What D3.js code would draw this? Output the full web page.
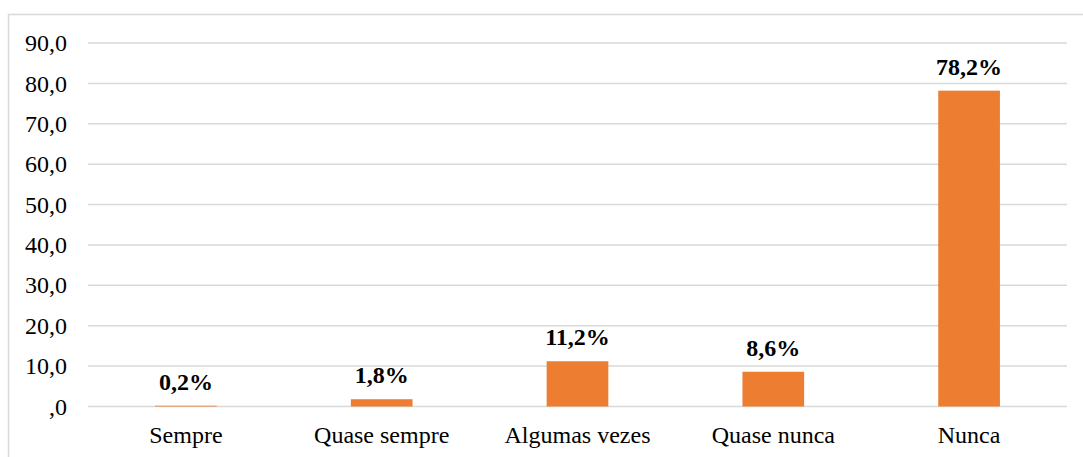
<!DOCTYPE html>
<meta charset="utf-8">
<html>
<head>
  <style>
    body { margin: 0; background: #fff; }
    svg { display: block; }
    text { font-family: "Liberation Serif", "Times New Roman", serif; fill: #000; }
    .bar { fill: #ED7D31; }
    .grid line { stroke: #d9d9d9; stroke-width: 1.5px; }
    .lbl { font-weight: bold; text-anchor: middle; }
  </style>
  <script src="https://d3js.org/d3.v7.min.js"></script>
</head>
<body>
<svg width="1083" height="457"></svg>
<script>
  // chart values
  var categories = ["Sempre", "Quase sempre", "Algumas vezes", "Quase nunca", "Nunca"];
  var values = [0.2, 1.8, 11.2, 8.6, 78.2];
  var valueLabels = ["0,2%", "1,8%", "11,2%", "8,6%", "78,2%"];
  var yTicks = [0, 10, 20, 30, 40, 50, 60, 70, 80, 90];
  var yTickLabels = [",0", "10,0", "20,0", "30,0", "40,0", "50,0", "60,0", "70,0", "80,0", "90,0"];

  var svg = d3.select("svg");

  // outer chart border
  svg.append("rect")
    .attr("x", 8.5).attr("y", 14.5)
    .attr("width", 1080).attr("height", 460)
    .attr("fill", "none").attr("stroke", "#d9d9d9").attr("stroke-width", 1.5);

  var margin = {top: 43, left: 88, right: 16};
  var width = 1083 - margin.left - margin.right;
  var height = 406.5 - margin.top;

  var g = svg.append("g")
    .attr("transform", "translate(" + margin.left + "," + margin.top + ")");

  var x = d3.scaleBand().domain(categories).range([0, width]).paddingInner(0.685).paddingOuter(0.3425);
  var y = d3.scaleLinear().domain([0, 90]).range([height, 0]);

  // gridlines
  g.append("g").attr("class", "grid")
    .selectAll("line").data(yTicks).enter().append("line")
      .attr("x1", 0).attr("x2", width)
      .attr("y1", function(d) { return y(d); })
      .attr("y2", function(d) { return y(d); });

  // y tick labels
  g.selectAll(".ytick").data(yTicks).enter().append("text")
    .attr("class", "ytick")
    .attr("x", -21)
    .attr("y", function(d) { return y(d); })
    .attr("dy", "0.34em")
    .attr("text-anchor", "end")
    .style("font-size", "24px")
    .text(function(d, i) { return yTickLabels[i]; });

  // bars
  g.selectAll(".bar").data(values).enter().append("rect")
    .attr("class", "bar")
    .attr("x", function(d, i) { return x(categories[i]); })
    .attr("y", function(d) { return y(d); })
    .attr("width", x.bandwidth())
    .attr("height", function(d) { return height - y(d); });

  // value labels
  g.selectAll(".lbl").data(values).enter().append("text")
    .attr("class", "lbl")
    .attr("x", function(d, i) { return x(categories[i]) + x.bandwidth() / 2; })
    .attr("y", function(d) { return y(d) - 16; })
    .style("font-size", "24px")
    .text(function(d, i) { return valueLabels[i]; });

  // category labels
  g.selectAll(".cat").data(categories).enter().append("text")
    .attr("class", "cat")
    .attr("x", function(d) { return x(d) + x.bandwidth() / 2; })
    .attr("y", height + 36)
    .attr("text-anchor", "middle")
    .style("font-size", "24px")
    .text(function(d) { return d; });
</script>
</body>
</html>
